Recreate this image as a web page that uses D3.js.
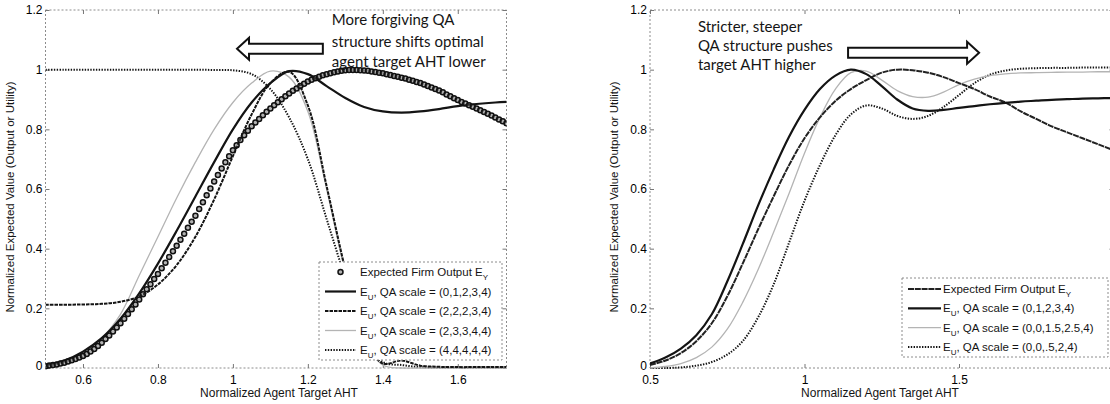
<!DOCTYPE html>
<html>
<head>
<meta charset="utf-8">
<script src="https://cdn.jsdelivr.net/npm/d3@7"></script>
<style>
  body { margin: 0; background: #fff; }
  svg { display: block; }
  .tick text { font-family: "Liberation Sans", Arial, sans-serif; font-size: 12px; fill: #000; }
</style>
</head>
<body>
<svg id="chart" width="1110" height="404"></svg>
<script>
// ---- data: left panel (forgiving QA structures) ----
const leftX = [0.50,0.55,0.60,0.65,0.70,0.75,0.80,0.85,0.90,0.95,1.00,1.05,1.10,1.15,1.20,1.25,1.30,1.35,1.40,1.45,1.50,1.55,1.60,1.65,1.70,1.73];
const leftU01234 = [0.010,0.025,0.055,0.100,0.165,0.250,0.350,0.460,0.575,0.690,0.800,0.890,0.955,0.995,0.985,0.945,0.905,0.875,0.860,0.856,0.860,0.868,0.878,0.885,0.890,0.892];
const leftU22234 = [0.212,0.212,0.213,0.215,0.222,0.240,0.280,0.345,0.440,0.565,0.710,0.850,0.955,0.993,0.880,0.610,0.330,0.100,0.015,0.025,0.008,0.004,0.003,0.003,0.003,0.003];
const leftU23344 = [0.005,0.020,0.050,0.100,0.180,0.310,0.440,0.570,0.690,0.800,0.890,0.955,0.995,0.975,0.860,0.600,0.320,0.100,0.010,0.000,0.000,0.000,0.000,0.000,0.000,0.000];
const leftU44444 = [1.000,1.000,1.000,1.000,1.000,1.000,1.000,1.000,1.000,0.999,0.998,0.985,0.935,0.840,0.700,0.500,0.300,0.110,0.020,0.010,0.003,0.002,0.002,0.002,0.002,0.002];

// expected firm output, one marker every 0.01 from 0.50 to 1.73
const leftEyStart = 0.50, leftEyStep = 0.01;
const leftEy = [
  .006,.008,.010,.012,.015,.018,.022,.026,.030,.035,
  .040,.047,.055,.064,.074,.085,.097,.109,.122,.136,
  .150,.165,.181,.197,.213,.230,.247,.264,.281,.298,
  .315,.334,.353,.372,.391,.410,.430,.450,.470,.490,
  .510,.533,.556,.579,.602,.625,.647,.669,.690,.710,
  .730,.747,.764,.780,.795,.810,.823,.835,.847,.859,
  .870,.881,.891,.901,.911,.920,.929,.937,.945,.953,
  .960,.966,.971,.976,.981,.985,.988,.991,.994,.996,
  .998,.999,.999,.999,.998,.997,.996,.994,.992,.990,
  .988,.985,.982,.979,.976,.973,.970,.966,.963,.959,
  .955,.950,.945,.940,.935,.930,.924,.917,.911,.904,
  .898,.892,.887,.881,.876,.870,.864,.858,.852,.846,
  .840,.833,.827,.820
];

// ---- data: right panel (stricter QA structures) ----
const rightX = [0.50,0.55,0.60,0.65,0.70,0.75,0.80,0.85,0.90,0.95,1.00,1.05,1.10,1.15,1.20,1.25,1.30,1.35,1.40,1.45,1.50,1.55,1.60,1.65,1.70,1.75,1.80,1.85,1.90,1.95,2.00];
const rightEy = [0.010,0.025,0.050,0.090,0.150,0.240,0.350,0.465,0.575,0.680,0.770,0.840,0.895,0.935,0.965,0.990,1.000,0.998,0.990,0.975,0.955,0.935,0.910,0.890,0.860,0.835,0.810,0.790,0.770,0.750,0.730];
const rightU01234 = [0.015,0.035,0.065,0.110,0.180,0.290,0.415,0.545,0.665,0.775,0.865,0.935,0.980,1.000,0.985,0.945,0.900,0.870,0.862,0.865,0.872,0.878,0.884,0.889,0.893,0.896,0.899,0.901,0.903,0.904,0.905];
const rightU0015254 = [0.000,0.005,0.015,0.035,0.070,0.130,0.220,0.330,0.455,0.585,0.720,0.840,0.935,0.990,0.995,0.965,0.930,0.910,0.908,0.925,0.950,0.968,0.980,0.986,0.989,0.990,0.991,0.992,0.992,0.993,0.993];
const rightU00524 = [0.000,0.000,0.002,0.008,0.020,0.045,0.090,0.170,0.280,0.420,0.560,0.680,0.780,0.850,0.880,0.870,0.845,0.835,0.845,0.875,0.915,0.955,0.983,0.997,1.003,1.005,1.006,1.006,1.007,1.007,1.007];

// ---- tick labels / texts ----
const yTicks = [0, 0.2, 0.4, 0.6, 0.8, 1, 1.2];
const leftXTicks = [0.6, 0.8, 1, 1.2, 1.4, 1.6];
const rightXTicks = [0.5, 1, 1.5];
const yTitle = "Normalized Expected Value (Output or Utility)";
const xTitle = "Normalized Agent Target AHT";
const leftNote = ["More forgiving QA", "structure shifts optimal", "agent target AHT lower"];
const rightNote = ["Stricter, steeper", "QA structure pushes", "target AHT higher"];
const leftScales = ["(0,1,2,3,4)", "(2,2,2,3,4)", "(2,3,3,4,4)", "(4,4,4,4,4)"];
const rightScales = ["(0,1,2,3,4)", "(0,0,1.5,2.5,4)", "(0,0,.5,2,4)"];

const DARK = "#141414", GREY = "#b4b4b4";
const styles = {
  solid:  { stroke: DARK, width: 2.2, dash: null },
  dashed: { stroke: DARK, width: 2, dash: "3.5,1" },
  grey:   { stroke: GREY, width: 1.3, dash: null },
  dotted: { stroke: DARK, width: 2, dash: "1.4,1.4" },
  eyLine: { stroke: "#222", width: 2, dash: "6,0.8" }
};

const svg = d3.select("#chart");
svg.append("rect").attr("width", 1110).attr("height", 404).attr("fill", "#fff");

function drawPanel(opt) {
  const x = d3.scaleLinear().domain(opt.xDomain).range(opt.xRange);
  const y = d3.scaleLinear().domain([0, 1.2]).range([368, 10]);
  const g = svg.append("g");
  const [x0, x1] = opt.xRange;

  // frame (dotted, matlab style)
  g.append("rect")
    .attr("x", x0).attr("y", 10)
    .attr("width", x1 - x0).attr("height", 358)
    .attr("fill", "none").attr("stroke", "#8c8c8c")
    .attr("stroke-width", 1).attr("stroke-dasharray", "2,2");

  // axes with inward ticks
  const ax = g.append("g").attr("transform", "translate(0,368)")
    .call(d3.axisBottom(x).tickValues(opt.xTicks).tickFormat(d3.format("~g")).tickSizeInner(-4).tickSizeOuter(0).tickPadding(7));
  const ay = g.append("g").attr("transform", `translate(${x0},0)`)
    .call(d3.axisLeft(y).tickValues(yTicks).tickFormat(d3.format("~g")).tickSizeInner(-4).tickSizeOuter(0).tickPadding(3));
  const at = g.append("g").attr("transform", "translate(0,10)")
    .call(d3.axisTop(x).tickValues(opt.xTicks).tickFormat("").tickSizeInner(-4).tickSizeOuter(0));
  const ar = g.append("g").attr("transform", `translate(${x1},0)`)
    .call(d3.axisRight(y).tickValues(yTicks).tickFormat("").tickSizeInner(-4).tickSizeOuter(0));
  [ax, ay, at, ar].forEach(a => {
    a.select(".domain").remove();
    a.selectAll(".tick line").attr("stroke", "#777");
  });
  // the zero label sits a little high, as in the original figure
  ay.selectAll(".tick").filter(d => d === 0).select("text").attr("dy", "0.1em");

  // titles
  g.append("text")
    .attr("x", (x0 + Math.min(x1, 1110)) / 2 + opt.xTitleShift).attr("y", 397)
    .attr("text-anchor", "middle")
    .style("font-family", "Liberation Sans, Arial, sans-serif").style("font-size", "12px")
    .attr("fill", DARK).text(xTitle);
  g.append("text")
    .attr("transform", `translate(${opt.yTitleX},197) rotate(-90)`)
    .attr("text-anchor", "middle")
    .style("font-family", "Liberation Sans, Arial, sans-serif").style("font-size", "11.5px")
    .attr("fill", DARK).text(yTitle);

  // curves
  const clipId = "clip" + opt.id;
  svg.append("clipPath").attr("id", clipId)
    .append("rect").attr("x", x0).attr("y", 8).attr("width", x1 - x0).attr("height", 362);
  const plot = g.append("g").attr("clip-path", `url(#${clipId})`);
  const line = d3.line().x(d => x(d[0])).y(d => y(d[1])).curve(d3.curveCatmullRom.alpha(0.5));

  opt.series.forEach(s => {
    const st = styles[s.style];
    plot.append("path")
      .datum(s.xs.map((v, i) => [v, s.ys[i]]))
      .attr("d", line)
      .attr("fill", "none")
      .attr("stroke", st.stroke)
      .attr("stroke-width", st.width)
      .attr("stroke-dasharray", st.dash)
      .attr("stroke-linejoin", "round");
  });

  if (opt.markers) {
    plot.selectAll("circle.ey")
      .data(opt.markers.ys)
      .join("circle")
      .attr("class", "ey")
      .attr("cx", (d, i) => x(opt.markers.start + i * opt.markers.step))
      .attr("cy", d => y(d))
      .attr("r", 2.5)
      .attr("fill", "#555")
      .attr("fill-opacity", 0.45)
      .attr("stroke", "#111")
      .attr("stroke-width", 1.5);
  }

  return { x, y, g };
}

function legend(g, box, rows) {
  const lg = g.append("g");
  lg.append("rect")
    .attr("x", box.x).attr("y", box.y).attr("width", box.w).attr("height", box.h)
    .attr("fill", "#fff").attr("stroke", "#8c8c8c").attr("stroke-dasharray", "2,2");
  rows.forEach((r, i) => {
    const cy = box.y + box.first + i * box.step;
    if (r.marker) {
      lg.append("circle").attr("cx", (box.s0 + box.s1) / 2).attr("cy", cy).attr("r", 2.5)
        .attr("fill", "#555").attr("fill-opacity", 0.45).attr("stroke", "#111").attr("stroke-width", 1.5);
    } else {
      const st = styles[r.style];
      lg.append("line").attr("x1", box.s0).attr("x2", box.s1).attr("y1", cy).attr("y2", cy)
        .attr("stroke", st.stroke).attr("stroke-width", st.width).attr("stroke-dasharray", st.dash);
    }
    const t = lg.append("text").attr("x", box.tx).attr("y", cy + 4)
      .style("font-family", "Liberation Sans, Arial, sans-serif").style("font-size", "11.5px")
      .attr("fill", DARK);
    t.append("tspan").text(r.pre);
    t.append("tspan").attr("dy", 4).style("font-size", "8px").text(r.sub);
    t.append("tspan").attr("dy", -4).text(r.post);
  });
}

function note(g, x0, ys, lines) {
  lines.forEach((l, i) => {
    g.append("text").attr("x", x0).attr("y", ys[i] + 5)
      .style("font-family", "Lato, 'Open Sans', sans-serif").style("font-size", "15px")
      .attr("fill", "#151515").text(l);
  });
}

function arrow(g, tipX, tailX, cy) {
  const dir = tipX < tailX ? 1 : -1;
  const hx = tipX + dir * 12;
  const pts = [[tipX, cy], [hx, cy - 11], [hx, cy - 5], [tailX, cy - 5],
               [tailX, cy + 5], [hx, cy + 5], [hx, cy + 11]];
  g.append("polygon").attr("points", pts.map(p => p.join(",")).join(" "))
    .attr("fill", "#fff").attr("stroke", "#111").attr("stroke-width", 2).attr("stroke-linejoin", "miter");
}

// ---- left panel ----
const L = drawPanel({
  id: "L", xDomain: [0.5, 1.73], xRange: [45.5, 506.5], xTicks: leftXTicks,
  yTitleX: 14, xTitleShift: 3,
  series: [
    { xs: leftX, ys: leftU44444, style: "dotted" },
    { xs: leftX, ys: leftU23344, style: "grey" },
    { xs: leftX, ys: leftU22234, style: "dashed" },
    { xs: leftX, ys: leftU01234, style: "solid" }
  ],
  markers: { start: leftEyStart, step: leftEyStep, ys: leftEy }
});
legend(L.g, { x: 319, y: 262, w: 183, h: 98, first: 10, step: 19.5, s0: 325, s1: 356, tx: 360 }, [
  { marker: true, pre: "Expected Firm Output E", sub: "Y", post: "" },
  ...leftScales.map((s, i) => ({ style: ["solid", "dashed", "grey", "dotted"][i], pre: "E", sub: "U", post: ", QA scale = " + s }))
]);
note(L.g, L.x(1.264), [20, 41.5, 61.5], leftNote);
arrow(L.g, L.x(1.011), L.x(1.240), L.y(1.07));

// ---- right panel ----
const R = drawPanel({
  id: "R", xDomain: [0.5, 2.0], xRange: [650, 1113.5], xTicks: rightXTicks,
  yTitleX: 618, xTitleShift: 0,
  series: [
    { xs: rightX, ys: rightU00524, style: "dotted" },
    { xs: rightX, ys: rightU0015254, style: "grey" },
    { xs: rightX, ys: rightEy, style: "eyLine" },
    { xs: rightX, ys: rightU01234, style: "solid" }
  ]
});
legend(R.g, { x: 902, y: 278, w: 206, h: 79, first: 11, step: 19.3, s0: 908, s1: 941, tx: 943 }, [
  { style: "eyLine", pre: "Expected Firm Output E", sub: "Y", post: "" },
  ...rightScales.map((s, i) => ({ style: ["solid", "grey", "dotted"][i], pre: "E", sub: "U", post: ", QA scale = " + s }))
]);
note(R.g, R.x(0.655), [27, 46, 65], rightNote);
arrow(R.g, R.x(1.565), R.x(1.141), R.y(1.057));
</script>
</body>
</html>
